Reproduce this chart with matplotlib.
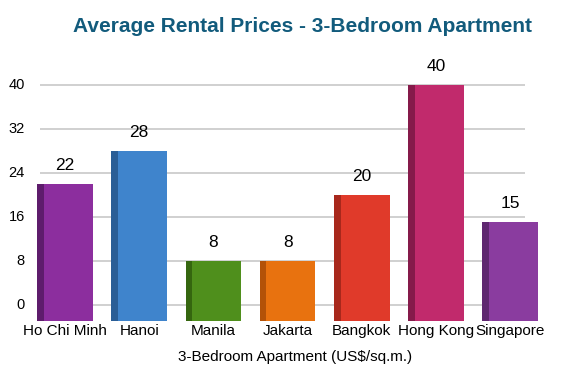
import matplotlib
matplotlib.use("Agg")
import matplotlib.pyplot as plt
import numpy as np

# data
cities = ["Ho Chi Minh", "Hanoi", "Manila", "Jakarta", "Bangkok", "Hong Kong", "Singapore"]
prices = [22, 28, 8, 8, 20, 40, 15]
colors = ["#8c2e9e", "#3f84cc", "#4f8f1c", "#e8720f", "#e03a2a", "#c12a6c", "#8a3c9f"]
side_colors = ["#5e1c6c", "#2a5e96", "#35660f", "#b35208", "#a8281c", "#851a4a", "#5f2770"]
yticks = [0, 8, 16, 24, 32, 40]

plt.rcParams['font.family'] = ['Liberation Sans', 'DejaVu Sans']

fig = plt.figure(figsize=(5.7, 3.83), dpi=100)
ax = fig.add_axes([0, 0.1534, 1, 0.6536])

x = np.arange(len(cities))
floor = -3
heights = [p - floor for p in prices]

# gridlines
ax.hlines(yticks, -0.34, 6.2, color="#c8c8c8", lw=1.2, zorder=0)
for t in yticks:
    ax.text(-0.54, t, str(t), ha="right", va="center", fontsize=10.5)

ax.bar(x, heights, bottom=floor, width=0.75, color=colors, zorder=2)
ax.bar(x - 0.33, heights, bottom=floor, width=0.09, color=side_colors, zorder=3)
for xi, p in zip(x, prices):
    ax.text(xi, p + 2.0, str(p), ha="center", va="bottom", fontsize=12.5)
    ax.text(xi, floor - 0.5, cities[xi], ha="center", va="top", fontsize=11)

ax.set_xlim(-0.876, 6.805)
ax.set_ylim(-3.5, 42)
ax.axis("off")

fig.text(0.53, 0.93, "Average Rental Prices - 3-Bedroom Apartment", ha="center", va="center",
         fontsize=15, fontweight="bold", color="#125b7c")
fig.text(0.517, 0.068, "3-Bedroom Apartment (US$/sq.m.)", ha="center", va="center", fontsize=11)

fig.savefig("out.png", dpi=100)
